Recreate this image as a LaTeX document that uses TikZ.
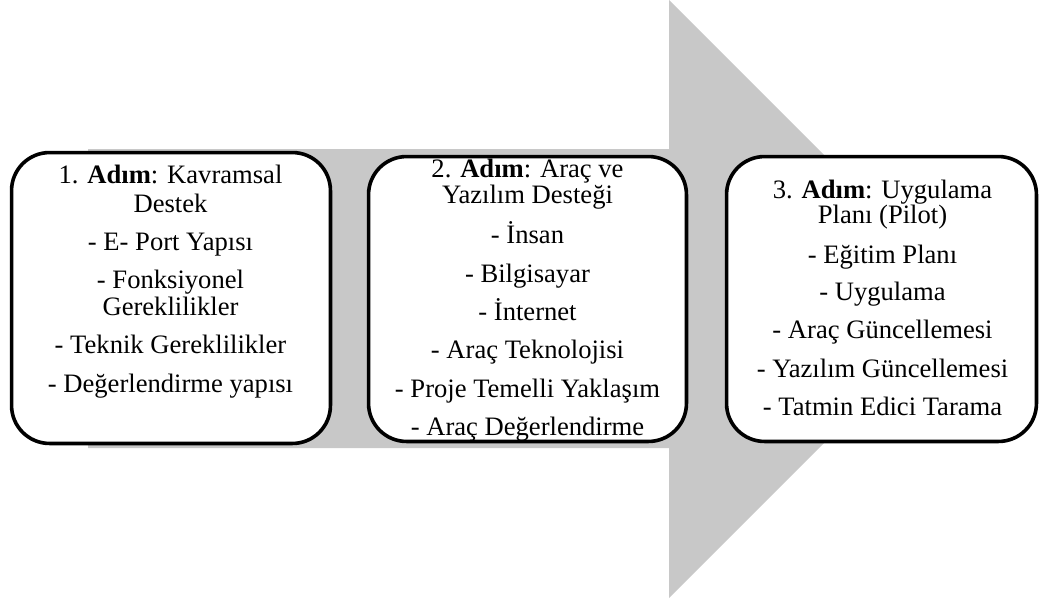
\documentclass[tikz,border=0pt]{standalone}
\usepackage{fontspec}
\setmainfont{Liberation Serif}
\definecolor{arrowgray}{RGB}{200,200,200}
\tikzset{
  stepbox/.style={fill=white, rounded corners=38pt, inner sep=0pt},
  boxline/.style={draw=black, line width=3.6pt, rounded corners=38pt},
  ln/.style={anchor=base, inner sep=0pt, font=\fontsize{26.6}{30}\selectfont},
}
\begin{document}
\begin{tikzpicture}[x=1pt,y=-1pt]
\useasboundingbox (0,0) rectangle (1041,598);
% big arrow
\fill[arrowgray] (88,149) -- (669,149) -- (669,0) -- (968,299) -- (669,598) -- (669,448) -- (88,448) -- cycle;
% boxes (fill)
\node[stepbox, minimum width=318.5pt, minimum height=290.5pt] (b1) at (171,298) {};
\node[stepbox, minimum width=317.5pt, minimum height=284.5pt] (b2) at (527.5,299) {};
\node[stepbox, minimum width=309.5pt, minimum height=284.5pt] (b3) at (881.5,299) {};
% box 1 text
\node[ln] (t1a) at (170.5,183) {1. \textbf{Adım}: Kavramsal};
\node[ln] (t1b) at (170.5,212) {Destek};
\node[ln] (t1c) at (170.5,250) {- E- Port Yapısı};
\node[ln] (t1d) at (170.5,288) {- Fonksiyonel};
\node[ln] (t1e) at (170.5,315) {Gereklilikler};
\node[ln] (t1f) at (170.5,353) {- Teknik Gereklilikler};
\node[ln] (t1g) at (170.5,392) {- Değerlendirme yapısı};
% box 2 text
\node[ln] (t2a) at (527.5,177) {2. \textbf{Adım}: Araç ve};
\node[ln] (t2b) at (527.5,203) {Yazılım Desteği};
\node[ln] (t2c) at (527.5,243) {- İnsan};
\node[ln] (t2d) at (527.5,282) {- Bilgisayar};
\node[ln] (t2e) at (527.5,320) {- İnternet};
\node[ln] (t2f) at (527.5,358) {- Araç Teknolojisi};
\node[ln] (t2g) at (527.5,397) {- Proje Temelli Yaklaşım};
\node[ln] (t2h) at (527.5,435) {- Araç Değerlendirme};
% box 3 text
\node[ln] (t3a) at (882.5,198) {3. \textbf{Adım}: Uygulama};
\node[ln] (t3b) at (882.5,223) {Planı (Pilot)};
\node[ln] (t3c) at (882.5,263) {- Eğitim Planı};
\node[ln] (t3d) at (882.5,300) {- Uygulama};
\node[ln] (t3e) at (882.5,338) {- Araç Güncellemesi};
\node[ln] (t3f) at (882.5,377) {- Yazılım Güncellemesi};
\node[ln] (t3g) at (882.5,415) {- Tatmin Edici Tarama};
% box outlines (drawn over the text, as in the original)
\draw[boxline] (b1.south west) rectangle (b1.north east);
\draw[boxline] (b2.south west) rectangle (b2.north east);
\draw[boxline] (b3.south west) rectangle (b3.north east);
\end{tikzpicture}
\end{document}
